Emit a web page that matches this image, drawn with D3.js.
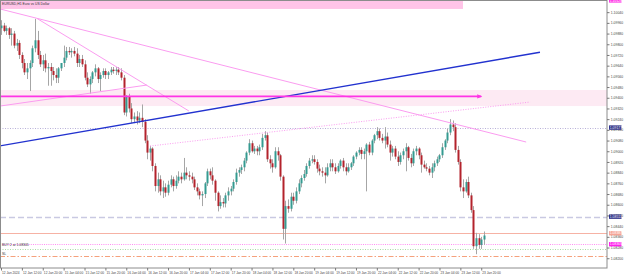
<!DOCTYPE html>
<html>
<head>
<meta charset="utf-8">
<script src="https://cdn.jsdelivr.net/npm/d3@7"></script>
<style>
  body { margin: 0; background: #fff; }
  svg { display: block; }
  text { font-family: "Liberation Sans", Arial, sans-serif; }
</style>
</head>
<body>
<script>
// EURUSD H1 bars, 12 Jan 04:00 .. 23 Jan 21:00
var opens = [
1.0992,1.0994,1.0990,1.0992,1.0987,1.0988,1.0979,1.0981,1.0972,1.0966,
1.0959,1.0962,1.0966,1.0977,1.0983,1.0972,1.0965,1.0968,1.0962,1.0963,
1.0960,1.0957,1.0955,1.0962,1.0966,1.0970,1.0975,1.0974,1.0975,1.0973,
1.0966,1.0969,1.0965,1.0955,1.0950,1.0954,1.0959,1.0962,1.0954,1.0957,
1.0960,1.0957,1.0959,1.0961,1.0960,1.0961,1.0959,1.0955,1.0929,1.0941,
1.0932,1.0924,1.0926,1.0923,1.0925,1.0922,1.0908,1.0899,1.0902,1.0889,
1.0874,1.0879,1.0870,1.0873,1.0869,1.0875,1.0879,1.0874,1.0878,1.0881,
1.0879,1.0884,1.0882,1.0881,1.0879,1.0873,1.0870,1.0867,1.0868,1.0876,
1.0885,1.0882,1.0878,1.0869,1.0859,1.0862,1.0861,1.0867,1.0870,1.0872,
1.0877,1.0884,1.0886,1.0888,1.0893,1.0899,1.0906,1.0900,1.0902,1.0900,
1.0903,1.0910,1.0912,1.0894,1.0891,1.0888,1.0900,1.0897,1.0881,1.0842,
1.0859,1.0857,1.0866,1.0863,1.0870,1.0876,1.0880,1.0883,1.0889,1.0893,
1.0894,1.0892,1.0887,1.0885,1.0884,1.0882,1.0888,1.0891,1.0888,1.0885,
1.0889,1.0893,1.0888,1.0885,1.0888,1.0891,1.0896,1.0899,1.0901,1.0898,
1.0900,1.0905,1.0899,1.0908,1.0912,1.0915,1.0910,1.0908,1.0911,1.0905,
1.0899,1.0902,1.0896,1.0892,1.0897,1.0900,1.0903,1.0895,1.0891,1.0900,
1.0902,1.0897,1.0890,1.0888,1.0887,1.0884,1.0888,1.0891,1.0894,1.0897,
1.0903,1.0908,1.0914,1.0920,1.0918,1.0901,1.0892,1.0873,1.0870,1.0877,
1.0867,1.0856,1.0829,1.0835,1.0830,1.0834
];
var highs = [
1.0998,1.0996,1.0994,1.0993,1.0992,1.0990,1.0984,1.0983,1.0974,1.0969,
1.0966,1.0968,1.0979,1.0999,1.0990,1.0975,1.0972,1.0973,1.0966,1.0966,
1.0963,1.0962,1.0963,1.0966,1.0979,1.0978,1.0978,1.0977,1.0978,1.0977,
1.0972,1.0972,1.0968,1.0959,1.0956,1.0960,1.0965,1.0963,1.0959,1.0962,
1.0962,1.0960,1.0963,1.0963,1.0963,1.0963,1.0962,1.0957,1.0942,1.0943,
1.0936,1.0929,1.0930,1.0929,1.0935,1.0924,1.0912,1.0904,1.0903,1.0891,
1.0884,1.0882,1.0878,1.0876,1.0878,1.0882,1.0881,1.0882,1.0885,1.0884,
1.0895,1.0888,1.0885,1.0884,1.0881,1.0876,1.0872,1.0870,1.0877,1.0887,
1.0887,1.0888,1.0879,1.0870,1.0867,1.0865,1.0869,1.0873,1.0874,1.0879,
1.0887,1.0888,1.0890,1.0895,1.0900,1.0909,1.0908,1.0904,1.0904,1.0905,
1.0913,1.0915,1.0914,1.0897,1.0894,1.0903,1.0903,1.0898,1.0882,1.0863,
1.0864,1.0869,1.0869,1.0873,1.0879,1.0882,1.0886,1.0891,1.0895,1.0897,
1.0897,1.0894,1.0890,1.0888,1.0888,1.0891,1.0894,1.0894,1.0891,1.0891,
1.0894,1.0895,1.0891,1.0891,1.0892,1.0897,1.0900,1.0903,1.0903,1.0902,
1.0906,1.0907,1.0909,1.0913,1.0918,1.0917,1.0913,1.0918,1.0914,1.0908,
1.0904,1.0904,1.0900,1.0899,1.0902,1.0906,1.0904,1.0898,1.0902,1.0904,
1.0903,1.0899,1.0893,1.0891,1.0889,1.0891,1.0893,1.0896,1.0898,1.0906,
1.0909,1.0917,1.0924,1.0923,1.0921,1.0904,1.0894,1.0879,1.0879,1.0881,
1.0869,1.0859,1.0839,1.0838,1.0836,1.0840
];
var lows = [
1.0987,1.0989,1.0987,1.0984,1.0979,1.0977,1.0975,1.0969,1.0962,1.0957,
1.0954,1.0945,1.0963,1.0974,1.0969,1.0963,1.0960,1.0959,1.0949,1.0949,
1.0953,1.0951,1.0951,1.0960,1.0963,1.0968,1.0972,1.0970,1.0971,1.0963,
1.0963,1.0963,1.0953,1.0948,1.0943,1.0951,1.0956,1.0951,1.0945,1.0955,
1.0954,1.0954,1.0957,1.0958,1.0957,1.0957,1.0953,1.0927,1.0926,1.0929,
1.0921,1.0921,1.0920,1.0921,1.0918,1.0906,1.0894,1.0893,1.0885,1.0870,
1.0869,1.0867,1.0865,1.0866,1.0867,1.0873,1.0870,1.0872,1.0876,1.0876,
1.0878,1.0879,1.0878,1.0876,1.0871,1.0867,1.0864,1.0859,1.0865,1.0874,
1.0879,1.0875,1.0863,1.0855,1.0857,1.0858,1.0858,1.0863,1.0867,1.0870,
1.0875,1.0881,1.0883,1.0885,1.0891,1.0897,1.0899,1.0898,1.0897,1.0897,
1.0901,1.0908,1.0892,1.0887,1.0884,1.0887,1.0893,1.0878,1.0834,1.0831,
1.0854,1.0855,1.0860,1.0861,1.0868,1.0873,1.0878,1.0881,1.0887,1.0891,
1.0890,1.0884,1.0882,1.0881,1.0876,1.0881,1.0885,1.0885,1.0883,1.0884,
1.0887,1.0885,1.0882,1.0884,1.0886,1.0889,1.0894,1.0897,1.0894,1.0894,
1.0870,1.0897,1.0897,1.0906,1.0909,1.0908,1.0906,1.0902,1.0903,1.0893,
1.0896,1.0894,1.0889,1.0890,1.0894,1.0885,1.0893,1.0888,1.0889,1.0897,
1.0894,1.0884,1.0887,1.0885,1.0882,1.0880,1.0885,1.0889,1.0892,1.0895,
1.0901,1.0906,1.0912,1.0915,1.0899,1.0890,1.0870,1.0865,1.0869,1.0865,
1.0854,1.0827,1.0823,1.0827,1.0827,1.0830
];
var closes = [
1.0994,1.0990,1.0992,1.0987,1.0988,1.0979,1.0981,1.0972,1.0966,1.0959,
1.0962,1.0966,1.0977,1.0983,1.0972,1.0965,1.0968,1.0962,1.0963,1.0960,
1.0957,1.0955,1.0962,1.0966,1.0970,1.0975,1.0974,1.0975,1.0973,1.0966,
1.0969,1.0965,1.0955,1.0950,1.0954,1.0959,1.0962,1.0954,1.0957,1.0960,
1.0957,1.0959,1.0961,1.0960,1.0961,1.0959,1.0955,1.0929,1.0941,1.0932,
1.0924,1.0926,1.0923,1.0925,1.0922,1.0908,1.0899,1.0902,1.0889,1.0874,
1.0879,1.0870,1.0873,1.0869,1.0875,1.0879,1.0874,1.0878,1.0881,1.0879,
1.0884,1.0882,1.0881,1.0879,1.0873,1.0870,1.0867,1.0868,1.0876,1.0885,
1.0882,1.0878,1.0869,1.0859,1.0862,1.0861,1.0867,1.0870,1.0872,1.0877,
1.0884,1.0886,1.0888,1.0893,1.0899,1.0906,1.0900,1.0902,1.0900,1.0903,
1.0910,1.0912,1.0894,1.0891,1.0888,1.0900,1.0897,1.0881,1.0842,1.0859,
1.0857,1.0866,1.0863,1.0870,1.0876,1.0880,1.0883,1.0889,1.0893,1.0894,
1.0892,1.0887,1.0885,1.0884,1.0882,1.0888,1.0891,1.0888,1.0885,1.0889,
1.0893,1.0888,1.0885,1.0888,1.0891,1.0896,1.0899,1.0901,1.0898,1.0900,
1.0905,1.0899,1.0908,1.0912,1.0915,1.0910,1.0908,1.0911,1.0905,1.0899,
1.0902,1.0896,1.0892,1.0897,1.0900,1.0903,1.0895,1.0891,1.0900,1.0902,
1.0897,1.0890,1.0888,1.0887,1.0884,1.0888,1.0891,1.0894,1.0897,1.0903,
1.0908,1.0914,1.0920,1.0918,1.0901,1.0892,1.0873,1.0870,1.0877,1.0867,
1.0856,1.0829,1.0835,1.0830,1.0834,1.0837
];

// time axis: one label every 8 bars
var timeTickBars = [0,8,16,24,32,40,48,56,64,72,80,88,96,104,112,120,128,136,144,152,160,168,176,184];
var timeLabels = ["12 Jan 2024","12 Jan 12:00","12 Jan 20:00","15 Jan 04:00","15 Jan 12:00","15 Jan 20:00",
  "16 Jan 04:00","16 Jan 12:00","16 Jan 20:00","17 Jan 04:00","17 Jan 12:00","17 Jan 20:00",
  "18 Jan 04:00","18 Jan 12:00","18 Jan 20:00","19 Jan 04:00","19 Jan 12:00","19 Jan 20:00",
  "22 Jan 04:00","22 Jan 12:00","22 Jan 20:00","23 Jan 04:00","23 Jan 12:00","23 Jan 20:00"];

var priceTicks = [1.0820,1.0828,1.0836,1.0844,1.0852,1.0860,1.0868,1.0876,1.0884,1.0892,1.0900,1.0908,
  1.0916,1.0924,1.0932,1.0940,1.0948,1.0956,1.0964,1.0972,1.0980,1.0988,1.0996,1.1004];

// horizontal levels: order line, stops, bid etc.
var levelPrices = [1.09177, 1.08511, 1.08387, 1.08305, 1.08267, 1.08213];
var tagPrices = [1.10128, 1.09177, 1.08511, 1.08387, 1.08305];

// drawn objects, [bar, price] anchors
var blueTrend = [[-0.4, 1.0904], [206.5, 1.0974]];
var pinkTrends = [
  [[-0.4, 1.10064], [201.2, 1.09069]],
  [[13.8, 1.09993], [72, 1.09301]],
  [[-0.4, 1.09338], [55.9, 1.09495]]
];
var pinkDotted = [[57.1, 1.09039], [202.7, 1.09368]];
var arrowLine = [[-0.4, 1.0941], [184, 1.0941]];
var zoneBand = [1.09458, 1.09338];
var topBand = [[-1, 1.1030], [177, 1.10064]];

var W = 625, H = 276, plotW = 607, plotH = 268;

var svg = d3.select("body").append("svg")
  .attr("width", W).attr("height", H);

var x = d3.scaleLinear().domain([0, 184]).range([1, 1 + 184 * 2.61]);
var y = d3.scaleLinear().domain([1.08127, 1.10131]).range([plotH, 0]);

svg.append("defs").append("clipPath").attr("id", "plot")
  .append("rect").attr("width", plotW).attr("height", plotH);

var g = svg.append("g").attr("clip-path", "url(#plot)");

// bands behind the bars
g.append("rect")
  .attr("x", 0).attr("width", plotW)
  .attr("y", y(zoneBand[0])).attr("height", y(zoneBand[1]) - y(zoneBand[0]))
  .attr("fill", "#fdeaf3");
g.append("rect")
  .attr("x", x(topBand[0][0])).attr("width", x(topBand[1][0]) - x(topBand[0][0]))
  .attr("y", y(topBand[0][1])).attr("height", y(topBand[1][1]) - y(topBand[0][1]))
  .attr("fill", "#ffc4e8");

// horizontal levels
var levelStyle = [
  {c: "#b8b0d8", w: 1, d: "1,1.5"},
  {c: "#c9c9e2", w: 1.3, d: "6,3"},
  {c: "#f6b2a4", w: 1, d: null},
  {c: "#ff8cf2", w: 1, d: "1,1.2"},
  {c: "#a9d9a4", w: 1, d: "1,1.5"},
  {c: "#f5a17c", w: 1, d: "5,2,1.5,2"}
];
g.selectAll(".level").data(levelPrices).enter().append("line")
  .attr("x1", 0).attr("x2", plotW)
  .attr("y1", function(d) { return Math.round(y(d)) + 0.5; })
  .attr("y2", function(d) { return Math.round(y(d)) + 0.5; })
  .attr("stroke", function(d, i) { return levelStyle[i].c; })
  .attr("stroke-width", function(d, i) { return levelStyle[i].w; })
  .attr("stroke-dasharray", function(d, i) { return levelStyle[i].d; });

// candles
var idx = d3.range(opens.length);
var bull = "#359b91", bear = "#b3232c";
g.append("g").selectAll("line").data(idx).enter().append("line")
  .attr("x1", function(i) { return Math.round(x(i)) + 0.5; })
  .attr("x2", function(i) { return Math.round(x(i)) + 0.5; })
  .attr("y1", function(i) { return y(highs[i]); })
  .attr("y2", function(i) { return y(lows[i]); })
  .attr("stroke", "#a6a6a6").attr("stroke-width", 1);
g.append("g").selectAll("rect").data(idx).enter().append("rect")
  .attr("x", function(i) { return Math.round(x(i)) - 0.5; })
  .attr("width", 2)
  .attr("y", function(i) { return y(Math.max(opens[i], closes[i])); })
  .attr("height", function(i) { return Math.max(1, Math.abs(y(opens[i]) - y(closes[i]))); })
  .attr("fill", function(i) { return closes[i] >= opens[i] ? bull : bear; });

// trend lines
function seg(a) {
  return g.append("line")
    .attr("x1", x(a[0][0])).attr("y1", y(a[0][1]))
    .attr("x2", x(a[1][0])).attr("y2", y(a[1][1]));
}
pinkTrends.forEach(function(t) {
  seg(t).attr("stroke", "#fb9cf0").attr("stroke-width", 1);
});
seg(pinkDotted).attr("stroke", "#fb9cf0").attr("stroke-width", 1).attr("stroke-dasharray", "1,1.5");
seg(blueTrend).attr("stroke", "#2232cf").attr("stroke-width", 1.4);
seg(arrowLine).attr("stroke", "#ff33e6").attr("stroke-width", 1.6);
var ax = x(arrowLine[1][0]), ay = y(arrowLine[1][1]);
g.append("path")
  .attr("d", "M" + (ax - 4) + "," + (ay - 2.2) + "L" + (ax + 1) + "," + ay + "L" + (ax - 4) + "," + (ay + 2.2) + "Z")
  .attr("fill", "#ff33e6");

// texts on the chart
svg.append("text").attr("x", 2).attr("y", 5.2)
  .style("font-size", "3.4px").attr("fill", "#333")
  .text("EURUSD,H1  Euro vs US Dollar");
svg.append("text").attr("x", 2).attr("y", y(levelPrices[3]) + 2.2)
  .style("font-size", "3.4px").attr("fill", "#333")
  .text("BUY 2 at 1.08305");
svg.append("text").attr("x", 2).attr("y", y(levelPrices[5]) - 1.5)
  .style("font-size", "3.4px").attr("fill", "#333")
  .text("SL");

// frame
svg.append("rect").attr("x", 0.5).attr("y", 0.5)
  .attr("width", plotW - 0.5).attr("height", plotH - 0.5)
  .attr("fill", "none").attr("stroke", "#8c8c8c").attr("stroke-width", 1);

// price axis
var yAxis = svg.append("g").attr("transform", "translate(" + plotW + ",0)")
  .call(d3.axisRight(y).tickValues(priceTicks).tickSize(2.5).tickPadding(1.3)
    .tickFormat(d3.format(".5f")));
yAxis.select(".domain").remove();
yAxis.selectAll("line").attr("stroke", "#777");
yAxis.selectAll("text").style("font-size", "3.4px").attr("fill", "#444");

// highlighted price tags
var tagColor = ["#ff33e6", "#2e2f86", "#2e2f86", "#f6a596", "#ff22ee"];
var tags = svg.append("g");
tagPrices.forEach(function(p, i) {
  var ty = y(p);
  tags.append("rect").attr("x", plotW + 2).attr("y", ty - 2.2)
    .attr("width", 12.5).attr("height", 4.4).attr("fill", tagColor[i]);
  tags.append("text").attr("x", plotW + 2.8).attr("y", ty + 1.2)
    .style("font-size", "3.4px").attr("fill", "#fff")
    .text(d3.format(".5f")(p));
});

// time axis
var xAxis = svg.append("g").attr("transform", "translate(0," + plotH + ")")
  .call(d3.axisBottom(x).tickValues(timeTickBars).tickSize(2.5).tickPadding(1)
    .tickFormat(function(d, i) { return timeLabels[i]; }));
xAxis.select(".domain").remove();
xAxis.selectAll("line").attr("stroke", "#777");
xAxis.selectAll("text").style("font-size", "3.2px").attr("fill", "#444")
  .attr("text-anchor", "start").attr("dx", "0.6");
</script>
</body>
</html>
